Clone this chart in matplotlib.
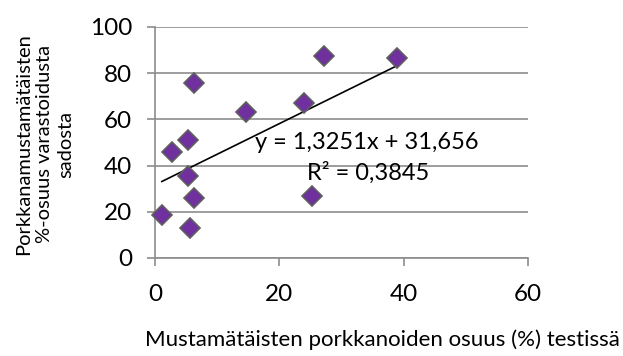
import numpy as np
import matplotlib
matplotlib.use('Agg')
import matplotlib.pyplot as plt

plt.rcParams['font.family'] = ['Lato', 'DejaVu Sans']

# share of black-spotted carrots in test vs. share in stored crop
x_test = [1.1, 2.8, 5.3, 5.3, 6.3, 6.3, 5.7, 14.6, 24.0, 25.2, 27.2, 39.0]
y_store = [18.6, 46.0, 51.0, 35.5, 75.6, 25.8, 12.9, 63.0, 67.0, 27.0, 87.4, 86.4]

slope = 1.3251
intercept = 31.656
r2 = 0.3845

fig = plt.figure(figsize=(6.23, 3.56), dpi=100)
ax = fig.add_axes([0.2488, 0.2753, 0.5987, 0.6489])

ax.set_xlim(0, 60)
ax.set_ylim(0, 100)
ax.set_xticks([0, 20, 40, 60])
ax.set_yticks([0, 20, 40, 60, 80, 100])
ax.yaxis.grid(True, color='#8c8c8c', linewidth=1.2)
ax.set_axisbelow(True)
for s in ['top', 'right']:
    ax.spines[s].set_visible(False)
for s in ['left', 'bottom']:
    ax.spines[s].set_color('#8c8c8c')
    ax.spines[s].set_linewidth(1.2)
ax.tick_params(axis='both', colors='#8c8c8c', length=5.5, width=1.2,
               labelcolor='black', labelsize=17.5)
ax.tick_params(axis='x', pad=13)
ax.tick_params(axis='y', pad=11)

# trend line over the data range
xs = np.array([min(x_test), max(x_test)])
ax.plot(xs, slope * xs + intercept, color='black', linewidth=1.2, zorder=2)

ax.plot(x_test, y_store, linestyle='none', marker='D', markersize=10.5,
        markerfacecolor='#7030a0', markeredgecolor='#5f5f5f',
        markeredgewidth=1.2, zorder=3, clip_on=False)

ax.text(16.1, 50.2, 'y = 1,3251x + 31,656', fontsize=17, va='center', ha='left')
ax.text(24.4, 36.8, 'R² = 0,3845', fontsize=17, va='center', ha='left')

fig.text(45 / 623, 1 - 144 / 356,
         'Porkkanamustamätäisten\n%-osuus varastoidusta\nsadosta',
         rotation=90, ha='center', va='center', multialignment='center',
         fontsize=14.5, linespacing=1.3)
fig.text(382 / 623, 1 - 340 / 356,
         'Mustamätäisten porkkanoiden osuus (%) testissä',
         ha='center', va='center', fontsize=16)

fig.savefig('out.png', dpi=100)
